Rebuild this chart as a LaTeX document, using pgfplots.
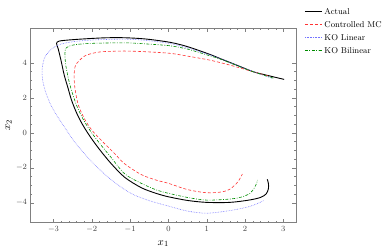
\documentclass[border=0pt]{standalone}
\usepackage{pgfplots}
\pgfplotsset{compat=1.18}
\definecolor{cred}{rgb}{1,0.2,0.2}
\definecolor{cblue}{rgb}{0.45,0.45,1}
\definecolor{cgreen}{rgb}{0,0.55,0}
\begin{document}
\begin{tikzpicture}
\path[use as bounding box] (-30.5pt,-27.5pt) rectangle (361.5pt,222.5pt);
\begin{axis}[
  at={(0pt,0pt)}, anchor=south west,
  scale only axis, width=265.5pt, height=194.2pt,
  xmin=-3.6, xmax=3.33, ymin=-5.13, ymax=5.97,
  xtick={-3,-2,-1,0,1,2,3}, ytick={-4,-2,0,2,4},
  minor x tick num=4, minor y tick num=3,
  tick align=inside,
  major tick length=4pt, minor tick length=2pt,
  axis line style={gray},
  tick style={gray},
  ticklabel style={font=\fontsize{7.8}{9}\selectfont, color=black!75},
  xlabel={$x_1$}, ylabel={$x_2$},
  label style={font=\fontsize{11}{13}\selectfont},
  xlabel style={at={(axis description cs:0.5,-0.108)}, anchor=center},
  ylabel style={at={(axis description cs:-0.083,0.5)}, anchor=center},
  legend style={at={(rel axis cs:1.02,1.13)}, anchor=north west, draw=none, fill=none,
    font=\fontsize{8.5}{10}\selectfont,
    nodes={inner ysep=3.4pt, text height=6pt, text depth=0pt}},
  legend cell align=left,
]
\addplot[black, line width=0.9pt, smooth, tension=0.5] coordinates {
(3.02,3.05) (2.6,3.27) (2.21,3.49) (1.8,3.85) (1.34,4.25) (1.08,4.48) (0.5,4.92) (0.04,5.17)
(-0.6,5.36) (-1.14,5.43) (-1.6,5.43) (-2.0,5.39) (-2.5,5.32) (-2.85,5.24) (-2.92,5.1)
(-2.88,4.82) (-2.8,4.1) (-2.72,3.3) (-2.62,2.55) (-2.53,1.87) (-2.4,1.15) (-2.25,0.5)
(-2.05,-0.2) (-1.8,-0.95) (-1.5,-1.75) (-1.14,-2.55) (-0.7,-3.15) (-0.3,-3.48) (0,-3.66)
(0.5,-3.87) (1.0,-3.98) (1.6,-3.98) (2.1,-3.85)
(2.4,-3.7) (2.55,-3.5) (2.61,-3.2) (2.61,-2.9) (2.58,-2.66)
};
\addlegendentry{Actual}
\addplot[cred, line width=0.6pt, densely dashed, smooth, tension=0.5] coordinates {
(2.6,3.25) (2.21,3.49) (1.6,3.87) (1.08,4.15) (0.5,4.38) (0.04,4.54) (-0.6,4.63)
(-1.14,4.67) (-1.74,4.63) (-2.05,4.5) (-2.22,4.34) (-2.42,3.87) (-2.46,3.3) (-2.44,2.54)
(-2.35,1.58) (-2.18,0.75) (-1.98,0.1) (-1.7,-0.55) (-1.4,-1.2) (-1.14,-1.78)
(-0.7,-2.4) (-0.3,-2.72) (0,-2.89) (0.5,-3.25) (1.0,-3.43) (1.4,-3.38) (1.6,-3.23) (1.78,-2.89)
(1.87,-2.61) (1.93,-2.36)
};
\addlegendentry{Controlled MC}
\addplot[cblue, line width=0.6pt, densely dotted, smooth, tension=0.5] coordinates {
(2.7,3.12) (2.21,3.5) (1.8,3.85) (1.34,4.25) (1.08,4.45) (0.5,4.85) (0.04,5.1) (-0.6,5.28)
(-1.14,5.35) (-2.0,5.3) (-2.5,5.2) (-2.83,5.05) (-3.05,4.78) (-3.22,4.34) (-3.29,3.77)
(-3.29,3.11) (-3.22,2.44) (-3.09,1.68) (-2.92,1.01) (-2.72,0.35) (-2.44,-0.55) (-2.0,-1.66)
(-1.57,-2.55) (-1.14,-3.25) (-0.83,-3.62) (-0.4,-3.95) (0,-4.19) (0.48,-4.47)
(1,-4.6) (1.6,-4.45) (2.04,-4.26) (2.3,-4.07) (2.48,-3.88)
};
\addlegendentry{KO Linear}
\addplot[cgreen, line width=0.6pt, dash pattern=on 3pt off 1.5pt on 0.8pt off 1.5pt, smooth, tension=0.5] coordinates {
(2.74,3.12) (2.21,3.49) (1.8,3.83) (1.34,4.22) (1.08,4.4) (0.5,4.78) (0.04,4.97) (-0.6,5.08)
(-1.14,5.14) (-2.0,5.11) (-2.45,5.03) (-2.65,4.88) (-2.7,4.65) (-2.68,3.87) (-2.57,2.73)
(-2.4,1.58) (-2.22,0.75) (-2.02,0.05) (-1.78,-0.65) (-1.5,-1.4) (-1.14,-2.35)
(-0.7,-2.9) (-0.3,-3.28) (0,-3.46) (0.5,-3.7) (1.0,-3.85) (1.6,-3.79)
(1.9,-3.68) (2.13,-3.46) (2.26,-3.09) (2.33,-2.70)
};
\addlegendentry{KO Bilinear}
\end{axis}
\end{tikzpicture}
\end{document}
